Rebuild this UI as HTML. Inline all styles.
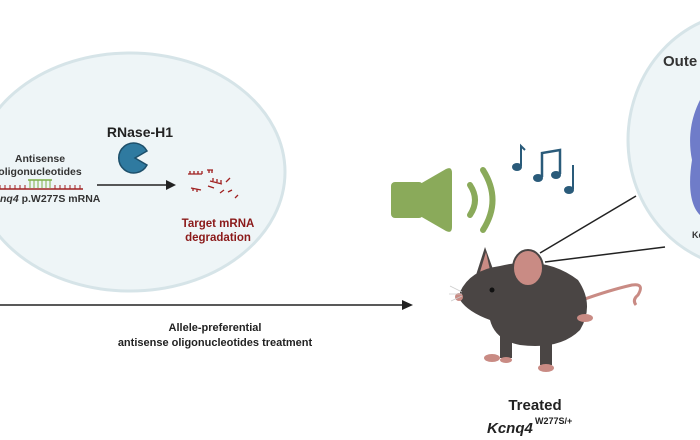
<!DOCTYPE html><html><head><style>body{margin:0;background:#fff}svg{display:block}text{font-family:"Liberation Sans",sans-serif;font-weight:bold}</style></head><body>
<svg width="700" height="440" viewBox="0 0 700 440">
<ellipse cx="130" cy="172" rx="155" ry="119" fill="#eef5f7" stroke="#d6e4e8" stroke-width="3"/>
<ellipse cx="748" cy="140" rx="120" ry="128" fill="#eef5f7" stroke="#d6e4e8" stroke-width="3"/>
<text x="663" y="66" font-size="15" fill="#333">Oute</text>
<path d="M700 100 C690 120 688 140 692 160 C688 185 690 205 700 215 Z" fill="#6f7cc9"/>
<text x="692" y="238" font-size="9" fill="#333">Kc</text>
<text x="140" y="137" font-size="14" text-anchor="middle" fill="#222">RNase-H1</text>
<path d="M133 158 m14 -7 A15 15 0 1 0 147 165 L135 158 Z" fill="#2f7aa0" stroke="#1d4f6a" stroke-width="1.5"/>
<text x="40" y="162" font-size="10.5" text-anchor="middle" fill="#333">Antisense</text>
<text x="40" y="175" font-size="10.5" text-anchor="middle" fill="#333">oligonucleotides</text>
<line x1="0" y1="189" x2="83" y2="189" stroke="#a02020" stroke-width="1.5"/>
<path d="M0 189 v-4 M5 189 v-4 M10 189 v-4 M15 189 v-4 M20 189 v-4 M25 189 v-4 M55 189 v-4 M60 189 v-4 M65 189 v-4 M70 189 v-4 M75 189 v-4 M80 189 v-4" stroke="#a02020" stroke-width="1"/>
<line x1="28" y1="180" x2="52" y2="180" stroke="#7fb04a" stroke-width="1.5"/>
<path d="M30 180 v8 M34 180 v8 M38 180 v8 M42 180 v8 M46 180 v8 M50 180 v8" stroke="#7fb04a"/>
<text x="0" y="202" font-size="10.5" fill="#333"><tspan font-style="italic">nq4</tspan> p.W277S mRNA</text>
<line x1="97" y1="185" x2="168" y2="185" stroke="#222" stroke-width="1.5"/>
<polygon points="176,185 166,180 166,190" fill="#222"/>
<g stroke="#a02020" stroke-width="1.3" fill="none">
<path d="M188 174 h14 M190 174 v-3 M194 174 v-3 M198 174 v-3 M202 174 v-3"/>
<path d="M207 170 h6 M209 170 v3 M212 170 v3"/>
<path d="M210 181 l12 3 M213 181 v-3 M217 182 v-3 M221 183 v-3"/>
<path d="M191 188 l10 2 M193 188 v3 M197 189 v3"/>
<path d="M208 186 l6 2 M230 178 l-4 4 M232 190 l-4 2 M220 193 l4 -3 M238 195 l-3 3"/>
</g>
<text x="218" y="227" font-size="11.5" text-anchor="middle" fill="#8b1a1a">Target mRNA</text>
<text x="218" y="241" font-size="11.5" text-anchor="middle" fill="#8b1a1a">degradation</text>
<line x1="0" y1="305" x2="404" y2="305" stroke="#222" stroke-width="1.5"/>
<polygon points="413,305 402,300 402,310" fill="#222"/>
<text x="215" y="331" font-size="11" text-anchor="middle" fill="#222">Allele-preferential</text>
<text x="215" y="346" font-size="11" text-anchor="middle" fill="#222">antisense oligonucleotides treatment</text>
<rect x="391" y="182" width="32" height="36" rx="4" fill="#8aaa5a"/>
<path d="M420 184 L446 169 Q452 166 452 173 L452 227 Q452 234 446 231 L420 216 Z" fill="#8aaa5a"/>
<path d="M470 185 Q480 200 470 215" stroke="#8aaa5a" stroke-width="6" fill="none" stroke-linecap="round"/>
<path d="M483 170 Q502 200 483 230" stroke="#8aaa5a" stroke-width="6" fill="none" stroke-linecap="round"/>
<g fill="#2a5b7a" stroke="#2a5b7a" stroke-width="2">
<ellipse cx="517" cy="167" rx="5" ry="4" stroke="none"/><path d="M521 166 V146 L525 150" fill="none"/>
<ellipse cx="538" cy="178" rx="5" ry="4" stroke="none"/><ellipse cx="556" cy="175" rx="5" ry="4" stroke="none"/>
<path d="M542 177 V153 L560 150 V174" fill="none" stroke-width="2.5"/>
<ellipse cx="569" cy="190" rx="5" ry="4" stroke="none"/><path d="M573 189 V165" fill="none"/>
</g>
<line x1="540" y1="253" x2="636" y2="196" stroke="#222" stroke-width="1.5"/>
<line x1="545" y1="262" x2="665" y2="247" stroke="#222" stroke-width="1.5"/>
<path d="M582 300 Q610 290 632 285 Q645 283 638 295 Q632 300 636 305" stroke="#c98b84" stroke-width="3" fill="none"/>
<path d="M476 275 L485 247 L494 272 Z" fill="#4a4544"/>
<path d="M480 272 L486 252 L490 270 Z" fill="#c98b84"/>
<path d="M460 292 Q470 270 500 266 Q545 255 578 280 Q595 305 580 330 Q560 350 520 345 Q495 340 490 320 Q468 312 460 300 Z" fill="#4a4544"/>
<ellipse cx="528" cy="268" rx="15" ry="18" fill="#c98b84" stroke="#4a4544" stroke-width="2"/>
<circle cx="459" cy="297" r="4" fill="#c98b84"/>
<circle cx="492" cy="290" r="2.5" fill="#111"/>
<path d="M462 292 l-12 -6 M462 294 l-13 0 M462 296 l-11 5" stroke="#ccc" stroke-width="0.7"/>
<rect x="500" y="330" width="12" height="28" fill="#4a4544"/><rect x="540" y="335" width="12" height="30" fill="#4a4544"/>
<ellipse cx="492" cy="358" rx="8" ry="4" fill="#c98b84"/><ellipse cx="546" cy="368" rx="8" ry="4" fill="#c98b84"/><ellipse cx="506" cy="360" rx="6" ry="3" fill="#c98b84"/><ellipse cx="585" cy="318" rx="8" ry="4" fill="#c98b84"/>
<text x="535" y="410" font-size="15" text-anchor="middle" fill="#222">Treated</text>
<text x="487" y="433" font-size="15" font-style="italic" fill="#222">Kcnq4</text><text x="535" y="424" font-size="9" fill="#222">W277S/+</text>
</svg></body></html>
